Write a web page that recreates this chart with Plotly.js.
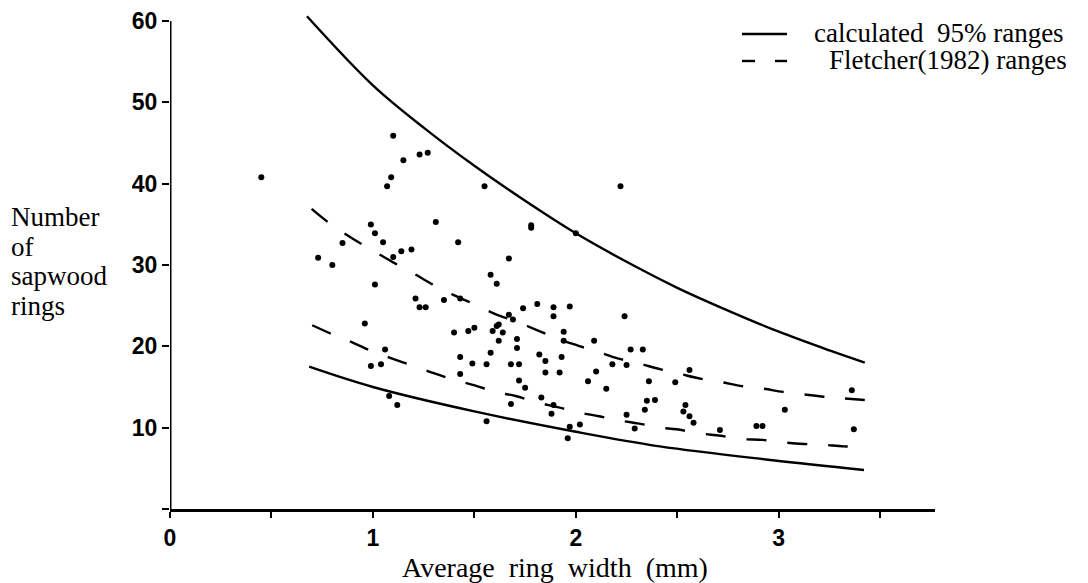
<!DOCTYPE html>
<html>
<head>
<meta charset="utf-8">
<script src="https://cdn.plot.ly/plotly-3.0.1.min.js"></script>
<style>html,body{margin:0;padding:0;background:#fff;}#chart{width:1088px;height:583px;}</style>
</head>
<body>
<div id="chart"></div>
<script>
// Scatter data: average ring width (mm) vs number of sapwood rings
var ringWidth = [0.45,1.10,1.15,1.23,1.27,1.09,1.07,0.99,1.01,1.31,0.85,1.05,1.42,0.73,0.80,1.10,1.14,1.19,1.01,1.21,
  1.23,1.26,1.35,1.43,0.96,1.40,1.47,1.50,1.06,0.99,1.04,1.43,1.49,1.43,1.08,1.12,1.55,2.22,1.78,1.78,
  2.00,1.67,1.58,1.61,1.74,1.81,1.89,1.97,1.89,1.67,1.69,2.24,1.62,1.61,1.59,1.64,1.94,1.94,1.62,1.71,
  2.09,1.71,1.58,2.27,2.33,1.82,1.93,1.85,1.56,1.68,1.72,2.18,2.25,1.85,1.92,2.10,1.72,2.06,2.36,1.75,
  2.15,1.83,2.35,2.39,1.68,1.89,2.34,1.88,2.25,1.56,1.97,2.02,2.29,1.96,2.56,2.49,2.54,2.53,2.56,2.58,
  3.03,2.71,2.89,2.92,3.36,3.37];
var sapwoodRings = [40.8,45.9,42.9,43.6,43.8,40.8,39.7,35.0,33.9,35.3,32.7,32.8,32.8,30.9,30.0,31.0,31.7,31.9,27.6,25.9,
  24.8,24.8,25.7,25.9,22.8,21.7,21.9,22.3,19.6,17.6,17.8,18.7,17.9,16.6,13.9,12.8,39.7,39.7,34.9,34.6,
  33.9,30.8,28.8,27.7,24.7,25.2,24.8,24.9,23.7,23.9,23.3,23.7,22.7,22.5,21.9,21.7,21.8,20.7,20.7,20.9,
  20.7,19.8,19.2,19.6,19.6,19.0,18.7,18.2,17.8,17.8,17.8,17.8,17.7,16.8,16.8,16.9,15.8,15.7,15.7,14.9,
  14.8,13.7,13.3,13.4,12.9,12.8,12.2,11.7,11.6,10.8,10.1,10.4,9.9,8.7,17.1,15.6,12.8,12.0,11.4,10.6,
  12.2,9.7,10.2,10.2,14.6,9.8];

// Calculated 95% ranges (solid curves)
var calcUpperX = [0.675,1.0,1.25,1.5,1.75,2.0,2.25,2.5,2.75,3.0,3.25,3.424];
var calcUpperY = [60.6,52.1,46.9,42.2,37.9,33.9,30.4,27.2,24.4,21.8,19.5,18.0];
var calcLowerX = [0.686,1.0,1.5,2.0,2.414,2.97,3.42];
var calcLowerY = [17.5,15.0,12.0,9.5,7.7,6.0,4.8];

// Fletcher (1982) ranges (dashed curves)
var fletUpperX = [0.698,0.793,0.903,0.998,1.102,1.205,1.302,1.399,1.506,1.601,1.711,1.808,1.916,2.010,2.112,2.21,2.31,2.414,2.515,2.619,2.717,2.821,2.923,3.021,3.12,3.223,3.317,3.424];
var fletUpperY = [36.9,35.0,33.2,31.8,30.3,28.9,27.5,26.3,25.1,24.0,23.0,22.0,20.9,20.1,19.3,18.5,17.9,17.2,16.6,16.0,15.6,15.1,14.8,14.4,14.1,13.8,13.6,13.4];
var fletLowerX = [0.701,0.799,0.898,0.996,1.095,1.199,1.300,1.399,1.502,1.604,1.703,1.81,1.916,2.01,2.115,2.21,2.312,2.414,2.496,2.611,2.713,2.816,2.92,3.021,3.125,3.222,3.32,3.419];
var fletLowerY = [22.6,21.5,20.5,19.4,18.5,17.6,16.7,15.9,15.2,14.4,13.9,13.1,12.5,11.9,11.4,10.9,10.5,10.0,9.8,9.3,9.0,8.6,8.5,8.2,8.0,7.9,7.7,7.7];

var xTickVals = [0,0.5,1,1.5,2,2.5,3,3.5];
var xTickText = ['0','','1','','2','','3',''];
var yTickVals = [0,10,20,30,40,50,60];
var yTickText = ['','10','20','30','40','50','60'];

var legendLabels = ['calculated&nbsp; 95% ranges','Fletcher(1982) ranges'];
var yTitleLines = ['Number','of','sapwood','rings'];
var xTitle = 'Average&nbsp; ring&nbsp; width&nbsp; (mm)';

var black = '#000';
var solid = {color: black, width: 2.4};
var dashed = {color: black, width: 2.4, dash: '20px,21px'};

var traces = [
  {x: calcUpperX, y: calcUpperY, mode: 'lines', line: Object.assign({shape: 'spline', smoothing: 1}, solid), hoverinfo: 'skip'},
  {x: calcLowerX, y: calcLowerY, mode: 'lines', line: Object.assign({shape: 'spline', smoothing: 1}, solid), hoverinfo: 'skip'},
  {x: fletUpperX, y: fletUpperY, mode: 'lines', line: Object.assign({shape: 'spline'}, dashed), hoverinfo: 'skip'},
  {x: fletLowerX, y: fletLowerY, mode: 'lines', line: Object.assign({shape: 'spline'}, dashed), hoverinfo: 'skip'},
  {x: ringWidth, y: sapwoodRings, mode: 'markers', marker: {color: black, size: 6}}
];

var W = 1088, H = 583, L = 170, R = 153, T = 15, B = 74;
var pw = W - L - R, ph = H - T - B;
function px(xp){ return (xp - L) / pw; }
function py(yp){ return (H - B - yp) / ph; }

var serif = 'Liberation Serif, Times New Roman, serif';
var sans = 'Liberation Sans, Arial, sans-serif';
var annotations = [];
var titleY = [217, 247, 276, 306];
yTitleLines.forEach(function(t, i){
  annotations.push({text: t, xref: 'paper', yref: 'paper', x: px(9), y: py(titleY[i]), xanchor: 'left', yanchor: 'middle',
    showarrow: false, font: {family: serif, size: 27, color: black}});
});
annotations.push({text: xTitle, xref: 'paper', yref: 'paper', x: px(555), y: py(567), xanchor: 'center', yanchor: 'middle',
  showarrow: false, font: {family: serif, size: 28, color: black}});
annotations.push({text: legendLabels[0], xref: 'paper', yref: 'paper', x: px(812), y: py(33), xanchor: 'left', yanchor: 'middle',
  showarrow: false, font: {family: serif, size: 27, color: black}});
annotations.push({text: legendLabels[1], xref: 'paper', yref: 'paper', x: px(827), y: py(60), xanchor: 'left', yanchor: 'middle',
  showarrow: false, font: {family: serif, size: 27, color: black}});

var shapes = [
  {type: 'line', xref: 'x', yref: 'y', x0: 0, x1: 0, y0: 0, y1: 60, line: {color: black, width: 3}},
  {type: 'line', xref: 'paper', yref: 'paper', x0: px(742), x1: px(787), y0: py(34), y1: py(34), line: {color: black, width: 2.4}},
  {type: 'line', xref: 'paper', yref: 'paper', x0: px(742), x1: px(755), y0: py(61), y1: py(61), line: {color: black, width: 2.4}},
  {type: 'line', xref: 'paper', yref: 'paper', x0: px(775), x1: px(787), y0: py(61), y1: py(61), line: {color: black, width: 2.4}}
];

var layout = {
  width: W, height: H,
  margin: {l: L, r: R, t: T, b: B, pad: 0},
  paper_bgcolor: '#fff', plot_bgcolor: '#fff',
  showlegend: false,
  font: {family: sans, size: 23, color: black},
  xaxis: {range: [0, 3.77], showgrid: false, zeroline: false, showline: true, linecolor: black, linewidth: 3,
    ticks: 'outside', ticklen: 6, tickwidth: 2, tickcolor: black, tickvals: xTickVals, ticktext: xTickText,
    tickfont: {family: sans, size: 23, color: black, weight: 'bold'}},
  yaxis: {range: [0, 60.75], showgrid: false, zeroline: false, showline: false,
    ticks: 'outside', ticklen: 7, tickwidth: 2, tickcolor: black, tickvals: yTickVals, ticktext: yTickText,
    tickfont: {family: sans, size: 23, color: black, weight: 'bold'}},
  shapes: shapes,
  annotations: annotations
};

Plotly.newPlot('chart', traces, layout, {staticPlot: true, displayModeBar: false});
</script>
</body>
</html>
